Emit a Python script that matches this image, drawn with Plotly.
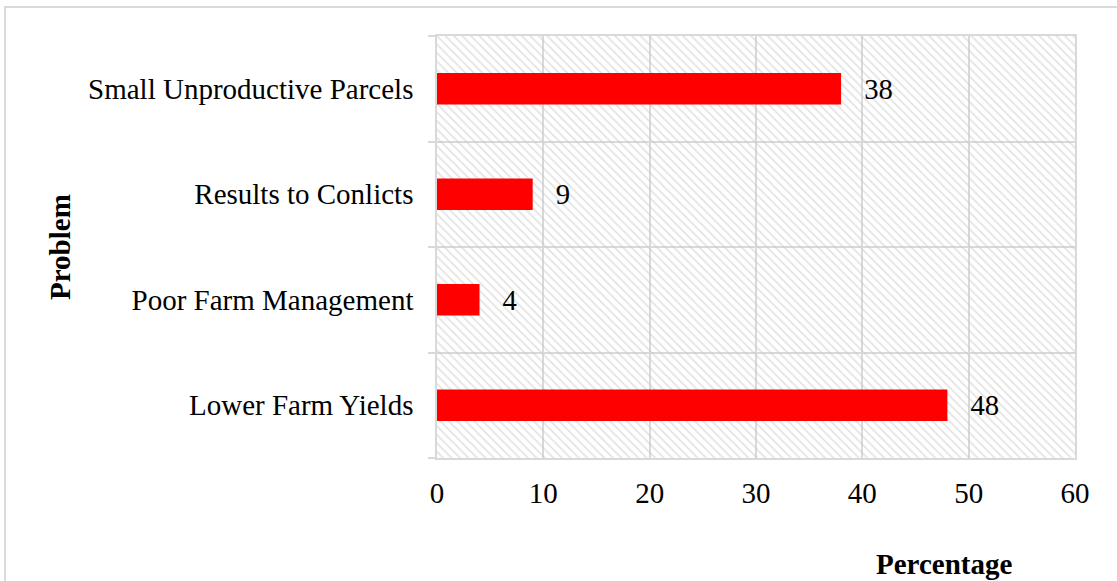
import plotly.graph_objects as go

categories = ["Lower Farm Yields", "Poor Farm Management", "Results to Conlicts", "Small Unproductive Parcels"]
values = [48, 4, 9, 38]
x_ticks = [0, 10, 20, 30, 40, 50, 60]

FONT = "Liberation Serif, Times New Roman, serif"
xmax = x_ticks[-1]
n = len(categories)
ypos = list(range(n))
GRID = "#d9d9d9"

fig = go.Figure()

# hatched plot background (spans the full axis range)
fig.add_trace(go.Bar(
    x=[xmax], y=[(n - 1) / 2], base=0, width=n, orientation="h",
    marker=dict(color="rgba(0,0,0,0)", line=dict(width=0),
                pattern=dict(shape="\\", fgcolor="#c8c8c8", bgcolor="rgba(0,0,0,0)",
                             size=6, solidity=0.3)),
    hoverinfo="skip", showlegend=False,
))

fig.add_trace(go.Bar(
    x=values, y=ypos, orientation="h", width=0.3,
    marker=dict(color="#FF0000", line=dict(width=0)),
    text=["\u00a0\u00a0\u2009" + str(v) for v in values], textposition="outside",
    textfont=dict(family=FONT, size=29, color="black"),
    cliponaxis=False, showlegend=False,
))

fig.update_layout(
    width=1117, height=581,
    margin=dict(l=437, r=42, t=36, b=123),
    paper_bgcolor="white", plot_bgcolor="white",
    font=dict(family=FONT, size=29, color="black"),
    barmode="overlay",
    xaxis=dict(range=[0, xmax], tickvals=x_ticks, showgrid=True, gridcolor=GRID, gridwidth=1.5,
               zeroline=False, showline=True, linecolor=GRID, linewidth=1.5, mirror=True,
               ticks="", ticklabelstandoff=8, tickfont=dict(family=FONT, size=29)),
    yaxis=dict(range=[-0.5, n - 0.5], tickvals=ypos, ticktext=categories, showgrid=False,
               zeroline=False, showline=True, linecolor=GRID, linewidth=1.5, mirror=True,
               ticks="", ticklabelstandoff=16, tickfont=dict(family=FONT, size=29),
               minor=dict(tickvals=[i - 0.5 for i in range(n + 1)], showgrid=True, gridcolor=GRID,
                          gridwidth=1.5, ticks="outside", ticklen=7, tickcolor=GRID, tickwidth=1.5)),
)

fig.add_annotation(text="<b>Problem</b>", xref="paper", yref="paper", x=-0.591, y=0.5,
                   xanchor="center", yanchor="middle",
                   textangle=-90, showarrow=False, font=dict(family=FONT, size=29))
fig.add_annotation(text="<b>Percentage</b>", xref="paper", yref="paper", x=0.795, y=-0.25,
                   xanchor="center", yanchor="middle",
                   showarrow=False, font=dict(family=FONT, size=29))

# outer border
fig.add_shape(type="rect", xref="paper", yref="paper", x0=-0.677, x1=1.1, y0=-0.4, y1=1.069,
              line=dict(color=GRID, width=2), fillcolor="rgba(0,0,0,0)", layer="below")

fig.write_html("out.html", config={"displayModeBar": False},
               post_script="document.body.style.margin='0';")
